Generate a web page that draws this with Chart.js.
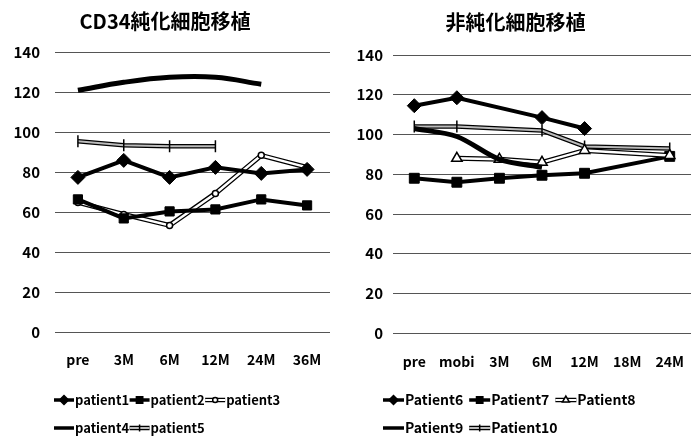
<!DOCTYPE html>
<html><head><meta charset="utf-8">
<script src="https://cdn.jsdelivr.net/npm/chart.js@4"></script>
<style>
html,body{margin:0;padding:0;background:#fff;}
#wrap{position:relative;width:699px;height:443px;background:#fff;}
#c1{position:absolute;left:0;top:0;}
#c2{position:absolute;left:340px;top:0;}
</style></head><body>
<div id="wrap"><canvas id="c1" width="340" height="443"></canvas><canvas id="c2" width="359" height="443"></canvas></div>
<script>
const leftTitle = 'CD34純化細胞移植';
const rightTitle = '非純化細胞移植';
const leftCategories = ['pre', '3M', '6M', '12M', '24M', '36M'];
const rightCategories = ['pre', 'mobi', '3M', '6M', '12M', '18M', '24M'];
const yTicks = [0, 20, 40, 60, 80, 100, 120, 140];

const patient1 = [77.5, 86, 77.5, 82.5, 79.5, 81.5];
const patient2 = [66.5, 57, 60.5, 61.5, 66.5, 63.5];
const patient3 = [65, 59, 53.5, 69.5, 88.5, 82.5];
const patient4 = [121, 125, 127.5, 127.5, 124, null];
const patient5 = [95.5, 93.5, 93, 93, null, null];

const patient6 = [114.5, 118.5, null, 108.5, 103, null, null];
const patient7 = [78, 76, 78, 79.5, 80.5, null, 89];
const patient8 = [null, 88, 87.5, 86, 92, null, 89.5];
const patient9 = [103, 99, 87.5, 83.5, null, null, null];
const patient10 = [104, 104, null, 102, 94, null, 93];

const FAMILY = '"Noto Sans CJK JP", "Noto Sans", sans-serif';

function solidSet(label, data, o) {
  return {
    label, data, borderColor: '#000', backgroundColor: '#000', borderWidth: o.w || 4,
    pointStyle: o.ps || 'circle', pointRadius: o.r || 0, pointRotation: o.rot || 0,
    pointBackgroundColor: '#000', pointBorderColor: '#000', pointBorderWidth: 1,
    pointHoverRadius: o.r || 0, order: o.order || 0,
    tension: o.t || 0, spanGaps: true,
    lg: {ps: o.ps, r: o.lr || 0, rot: o.rot || 0, w: o.lw || 3.5, fill: '#000', outline: false}
  };
}
function hollowSet(label, data, o) {
  const w = o.w || 2.5;
  const inner = {
    label, data, borderColor: o.inner || '#fff', backgroundColor: '#fff', borderWidth: w,
    pointStyle: o.ps || 'circle', pointRadius: o.r || 0, pointRotation: o.rot || 0,
    pointBackgroundColor: '#fff', pointBorderColor: '#000', pointBorderWidth: 1.5,
    pointHoverRadius: o.r || 0,
    tension: o.t || 0, spanGaps: true,
    lg: {ps: o.ps, r: o.lr || 0, rot: o.rot || 0, w: 2, fill: '#fff', outline: true, inner: o.inner || '#fff'}
  };
  const outer = {
    label: '', data, isOutline: true, borderColor: '#000', borderWidth: w + 2.5,
    pointRadius: 0, pointHoverRadius: 0, tension: o.t || 0, spanGaps: true
  };
  return [inner, outer];
}

const legendPlugin = {
  id: 'customLegend',
  afterLayout(chart, args, opts) {
    const l = chart.legend; if (!l) return;
    const dx = opts.left - l.left;
    l.left += dx; l.right += dx;
    l.top = opts.top; l.bottom = chart.height;
  },
  afterDraw(chart, args, opts) {
    const l = chart.legend; const ctx = chart.ctx;
    const lab = chart.options.plugins.legend.labels;
    const fs = lab.font.size; const bw = lab.boxWidth;
    l.legendItems.forEach((it, i) => {
      const hb = l.legendHitBoxes[i];
      const ds = chart.data.datasets[it.datasetIndex];
      const lg = ds.lg;
      const tx = hb.left + bw + fs / 2;
      const y = hb.top + hb.height / 2;
      const x0 = tx - opts.len, x1 = tx - 1;
      ctx.save();
      ctx.lineCap = 'butt';
      ctx.beginPath(); ctx.moveTo(x0, y); ctx.lineTo(x1, y);
      if (lg.outline) {
        ctx.strokeStyle = '#000'; ctx.lineWidth = lg.w + 2.5; ctx.stroke();
        ctx.beginPath(); ctx.moveTo(x0, y); ctx.lineTo(x1, y);
        ctx.strokeStyle = lg.inner; ctx.lineWidth = lg.w; ctx.stroke();
      } else {
        ctx.strokeStyle = '#000'; ctx.lineWidth = lg.w; ctx.stroke();
      }
      if (lg.ps && lg.r) {
        ctx.fillStyle = lg.fill; ctx.strokeStyle = '#000'; ctx.lineWidth = 1.5;
        Chart.helpers.drawPoint(ctx, {pointStyle: lg.ps, radius: lg.r, rotation: lg.rot, borderWidth: 1.5}, (x0 + x1) / 2, y);
      }
      ctx.restore();
    });
  }
};

function makeChart(canvas, cfg) {
  return new Chart(canvas, {
    type: 'line',
    data: {labels: cfg.labels, datasets: cfg.datasets},
    plugins: [legendPlugin],
    options: {
      responsive: false, animation: false, events: [],
      layout: {padding: cfg.pad},
      plugins: {
        title: {display: true, text: cfg.title, color: '#000',
          font: {family: FAMILY, size: 20, weight: 'bold'}, padding: cfg.titlePad},
        tooltip: {enabled: false},
        legend: {
          position: 'bottom', align: 'start', fullSize: false, maxHeight: cfg.legendMaxH,
          labels: {
            color: '#000', font: {family: FAMILY, size: cfg.legendFont, weight: 'bold'},
            boxWidth: cfg.boxWidth, boxHeight: 1, padding: cfg.legendPad,
            generateLabels(chart) {
              const out = [];
              chart.data.datasets.forEach((ds, i) => {
                if (ds.isOutline) return;
                out.push({text: ds.label, datasetIndex: i, fillStyle: 'rgba(0,0,0,0)',
                  strokeStyle: 'rgba(0,0,0,0)', lineWidth: 0, hidden: false, fontColor: '#000'});
              });
              return out;
            }
          }
        },
        customLegend: cfg.legendPos
      },
      scales: {
        x: {
          type: 'category', offset: true,
          afterFit: (s) => { s.height = cfg.xHeight; },
          grid: {display: false, drawTicks: false}, border: {display: false},
          ticks: {color: '#000', font: {family: FAMILY, size: 14, weight: 'bold', lineHeight: cfg.xLine},
            padding: cfg.xPad, maxRotation: 0, autoSkip: false}
        },
        y: {
          min: 0, max: 140,
          afterFit: (s) => { s.width = cfg.yWidth; },
          afterBuildTicks: (s) => { s.ticks = yTicks.map(v => ({value: v})); },
          grid: {color: '#555', lineWidth: 1, drawTicks: false}, border: {display: false},
          ticks: {color: '#000', font: {family: FAMILY, size: 15, weight: 'bold'}, padding: cfg.yPad}
        }
      }
    }
  });
}

const leftSets = [
  solidSet('patient1', patient1, {ps: 'rectRot', r: 7, lr: 4.5, w: 4}),
  solidSet('patient2', patient2, {ps: 'rect', r: 6.5, lr: 4.5, w: 4}),
  ...hollowSet('patient3', patient3, {ps: 'circle', r: 3, lr: 2.5, w: 2.5}),
  solidSet('patient4', patient4, {w: 5, t: 0.4}),
  ...hollowSet('patient5', patient5, {ps: 'line', r: 6, lr: 3.5, rot: 90, w: 2, inner: '#bbb'})
];
const rightSets = [
  solidSet('Patient6', patient6, {ps: 'rectRot', r: 7, lr: 4.5, w: 4}),
  solidSet('Patient7', patient7, {ps: 'rect', r: 7, lr: 4.5, w: 4, order: 1}),
  ...hollowSet('Patient8', patient8, {ps: 'triangle', r: 6, lr: 4, w: 2.5}),
  solidSet('Patient9', patient9, {w: 5, t: 0.3, order: -1}),
  ...hollowSet('Patient10', patient10, {ps: 'line', r: 6, lr: 3.5, rot: 90, w: 2, inner: '#bbb'})
];

makeChart(document.getElementById('c1'), {
  labels: leftCategories, datasets: leftSets, title: leftTitle,
  pad: {left: 0, right: 10, top: 0, bottom: 0},
  titlePad: {top: 9.5, bottom: 18.8},
  legendFont: 13, boxWidth: 0, legendPad: 15, legendMaxH: 55.5,
  legendPos: {left: 53.5, top: 378.5, len: 21},
  xLine: '35px', xPad: 10, xHeight: 55, yWidth: 55, yPad: 15
});
makeChart(document.getElementById('c2'), {
  labels: rightCategories, datasets: rightSets, title: rightTitle,
  pad: {left: 0, right: 8, top: 0, bottom: 0},
  titlePad: {top: 10.5, bottom: 20.5},
  legendFont: 14, boxWidth: 7, legendPad: 14, legendMaxH: 52.3,
  legendPos: {left: 37, top: 379, len: 22},
  xLine: '33.4px', xPad: 12, xHeight: 57.4, yWidth: 53, yPad: 10
});
</script>
</body></html>
